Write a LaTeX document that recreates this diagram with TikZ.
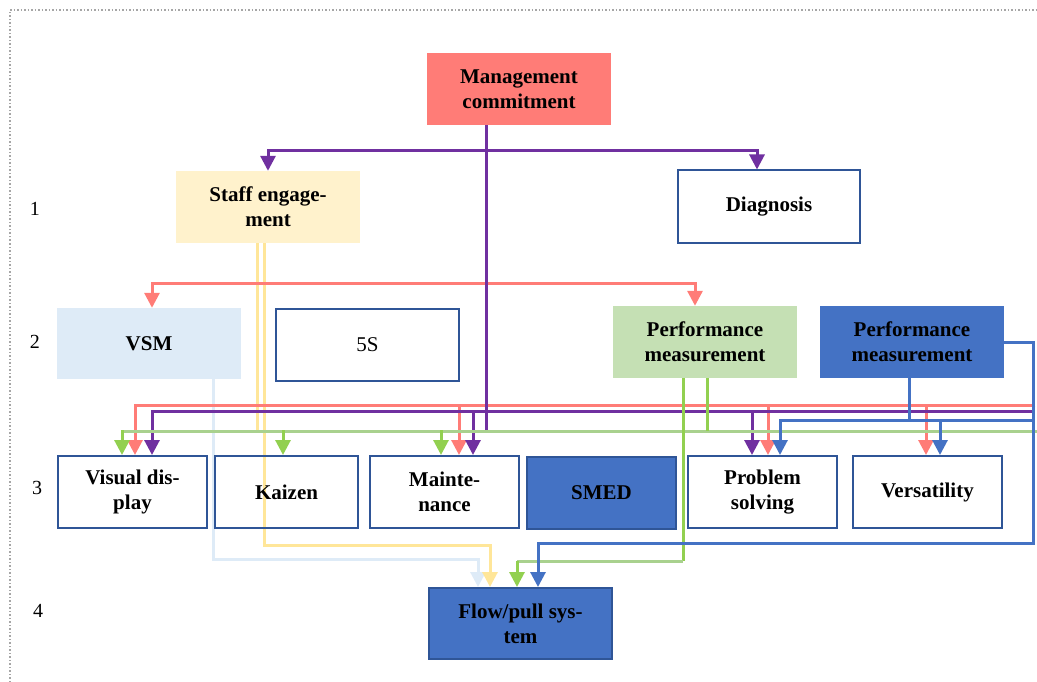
\documentclass[tikz,border=0pt]{standalone}
\usepackage{fontspec}
\setmainfont{Liberation Serif}
\usetikzlibrary{arrows.meta,backgrounds}
\definecolor{salmon}{HTML}{FF7C77}
\definecolor{purp}{HTML}{7030A0}
\definecolor{sand}{HTML}{FFF2CC}
\definecolor{sandline}{HTML}{FFE699}
\definecolor{mist}{HTML}{DEEBF7}
\definecolor{sage}{HTML}{C5E0B4}
\definecolor{leaf}{HTML}{92D050}
\definecolor{leafpale}{HTML}{A9D18E}
\definecolor{steel}{HTML}{4472C4}
\definecolor{navy}{HTML}{2F5597}

\begin{document}
\begin{tikzpicture}[
  x=1pt, y=-1pt, >={Triangle[length=15pt,width=15pt]},
  every node/.style={font=\fontsize{21}{25}\selectfont\bfseries},
  box/.style={minimum width=184pt, minimum height=72pt, align=center, inner sep=0pt},
  outl/.style={box, draw=navy, line width=2pt, fill=white},
  solidbox/.style={box, draw=navy, line width=2pt, fill=steel},
  wire/.style={line width=3pt},
  rowno/.style={font=\fontsize{20}{24}\selectfont}
]
  \useasboundingbox (0,0) rectangle (1037,682);
  \draw[gray!70, dotted, line width=1.5pt] (10,682) -- (10,10) -- (1037,10);

  \node[box, fill=salmon] (mgmt) at (519,89) {Management\\commitment};
  \node[box, fill=sand] (staff) at (268,207) {Staff engage-\\ment};
  \node[outl, minimum width=182pt] (diag) at (769,206.5) {Diagnosis};
  \node[box, fill=mist, minimum height=71pt] (vsm) at (149,343.5) {VSM};
  \node[outl, minimum width=183pt, font=\fontsize{21}{25}\selectfont] (fiveS) at (367.5,344.5) {5S};
  \node[box, fill=sage] (perfg) at (705,342) {Performance\\measurement};
  \node[box, fill=steel] (perfb) at (912,342) {Performance\\measurement};
  \foreach \nm/\x/\w/\lab in {visual/132.5/149pt/{Visual dis-\\play},
      maint/444.5/149pt/{Mainte-\\nance}, prob/762.5/149pt/{Problem\\solving},
      vers/927.5/149pt/Versatility}
    \node[outl, minimum width=\w] (\nm) at (\x,492) {\lab};
  \node[outl, fill=none, minimum width=143pt] (kaizen) at (286.5,492) {Kaizen};
  \node[solidbox, minimum width=149pt] (smed) at (601.5,492.5) {SMED};
  \node[solidbox, minimum width=183pt, minimum height=71pt] (flow) at (520.5,623.5) {Flow/pull sys-\\tem};
  \foreach \n/\x/\y in {1/35/209, 2/35/342, 3/37/488, 4/38/611}
    \node[rowno] (row\n) at (\x,\y) {\n};

  \coordinate (pv) at (486,151);
  \coordinate (pvend) at (486,431);
  \coordinate (pk) at (486,283);
  \coordinate (pkbus) at (1035,405);
  \coordinate (pubus) at (1033,411);
  \coordinate (bbus) at (1033,420);
  \coordinate (gbus) at (1037,431);
  \coordinate (gwest) at (122,431);
  \coordinate (yelend) at (257,431);

  \begin{scope}[on background layer]
  \draw[wire, mist, ->] (vsm.south -| 213,0) -- (213,559) -| ([xshift=-42.5pt]flow.north);
  \draw[wire, sandline] (staff.south -| 257,0) -- (yelend);
  \draw[wire, sandline, ->] (staff.south -| 264,0) -- (264,545) -| ([xshift=-30.5pt]flow.north);

  \draw[wire, salmon, ->] (pk) -| ([xshift=3pt]vsm.north);
  \draw[wire, salmon, ->] (pk) -| ([xshift=-10pt]perfg.north);
  \foreach \t/\dx in {visual/2.5pt, maint/14.5pt, prob/5.5pt, vers/-1.5pt}
    \draw[wire, salmon, ->] (pkbus) -| ([xshift=\dx]\t.north);

  \draw[wire, purp] (mgmt.south -| pv) -- (pvend);
  \draw[wire, purp, ->] (pv) -| (staff.north);
  \draw[wire, purp, ->] (pv) -| ([xshift=-12pt]diag.north);
  \foreach \t/\dx in {visual/19.5pt, maint/28.5pt, prob/-10.5pt}
    \draw[wire, purp, ->] (pubus) -| ([xshift=\dx]\t.north);

  \draw[wire, leafpale] (gbus) -- (gwest);
  \draw[wire, leaf] (perfg.south -| 707,0) -- (707,431);
  \foreach \t/\dx in {visual/-10.5pt, kaizen/-3.5pt, maint/-3.5pt}
    \draw[wire, leaf, <-] ([xshift=\dx]\t.north) -- ++(0,-25);
  \draw[wire, leaf] (perfg.south -| 683,0) -- (683,561);
  \draw[wire, leafpale] (683,561) -- (517,561);
  \draw[wire, leaf, <-] ([xshift=-3.5pt]flow.north) -- ++(0,-26);

  \draw[wire, steel] (perfb.south -| 909,0) -- (909,420);
  \foreach \t/\dx in {prob/17.5pt, vers/12.5pt}
    \draw[wire, steel, ->] (bbus) -| ([xshift=\dx]\t.north);
  \draw[wire, steel, ->] (perfb.east) -| (1033,543) -| ([xshift=17.5pt]flow.north);
  \end{scope}
\end{tikzpicture}
\end{document}
